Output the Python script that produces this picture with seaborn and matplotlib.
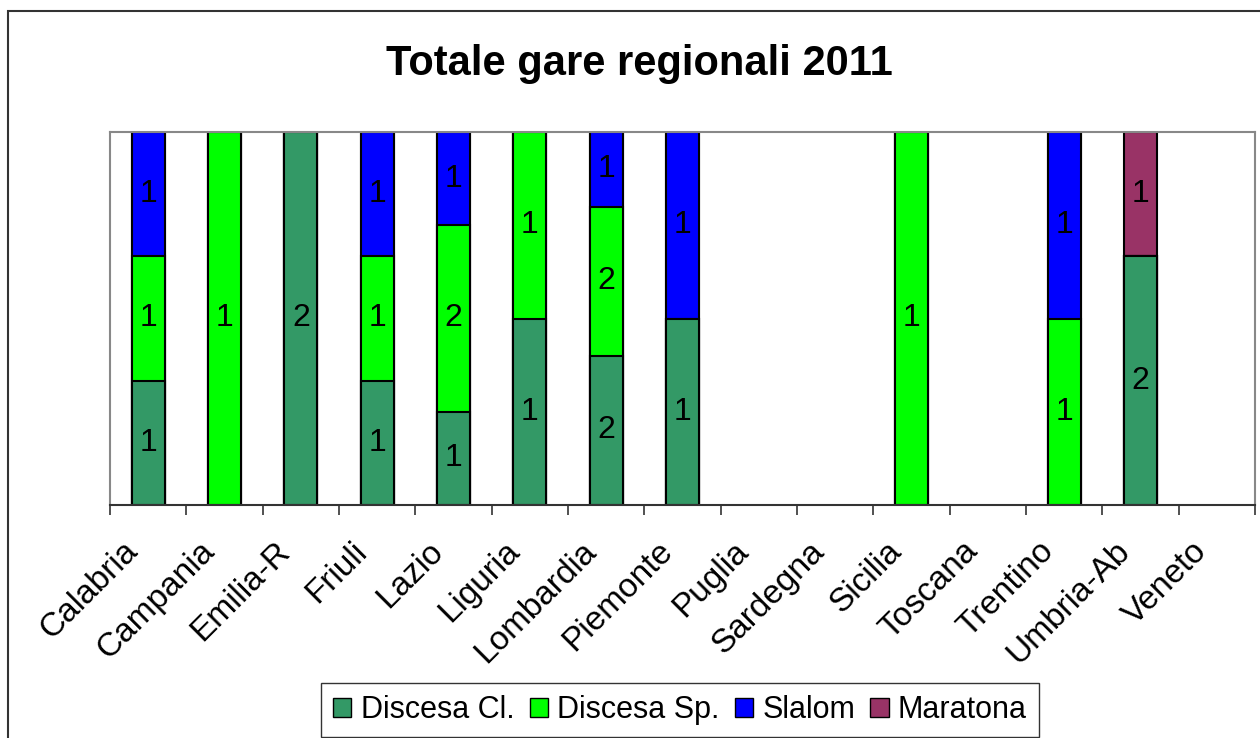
import numpy as np
import pandas as pd
import matplotlib
matplotlib.use("Agg")
import matplotlib.pyplot as plt
import matplotlib.transforms as mtransforms
from matplotlib.patches import Rectangle, Patch
import seaborn as sns

regions = ["Calabria", "Campania", "Emilia-R", "Friuli", "Lazio", "Liguria",
           "Lombardia", "Piemonte", "Puglia", "Sardegna", "Sicilia", "Toscana",
           "Trentino", "Umbria-Ab", "Veneto"]
discesa_cl = [1, 0, 2, 1, 1, 1, 2, 1, 0, 0, 0, 0, 0, 2, 0]
discesa_sp = [1, 1, 0, 1, 2, 1, 2, 0, 0, 0, 1, 0, 1, 0, 0]
slalom     = [1, 0, 0, 1, 1, 0, 1, 1, 0, 0, 0, 0, 1, 0, 0]
maratona   = [0, 0, 0, 0, 0, 0, 0, 0, 0, 0, 0, 0, 0, 1, 0]

series_names = ["Discesa Cl.", "Discesa Sp.", "Slalom", "Maratona"]
series_vals = [discesa_cl, discesa_sp, slalom, maratona]
colors = ["#339966", "#00FF00", "#0000FF", "#993366"]

sns.set_theme(style="white")
plt.rcParams['font.family'] = ['Liberation Sans', 'DejaVu Sans']
plt.rcParams['text.color'] = 'black'
plt.rcParams['xtick.color'] = 'black'

counts = np.array(series_vals, dtype=float)
totals = counts.sum(axis=0)
safe = np.where(totals > 0, totals, 1)
pct = counts / safe
cum = np.cumsum(pct, axis=0)

fig = plt.figure(figsize=(12.6, 7.38), dpi=100)
ax = fig.add_axes([110/1260, 1-505/738, (1255-110)/1260, (505-132)/738])

# draw from the top layer down so each lower cumulative bar overlays
for k in range(len(series_names)-1, -1, -1):
    df = pd.DataFrame({"region": regions, "val": cum[k]})
    sns.barplot(data=df, x="region", y="val", order=regions, color=colors[k],
                saturation=1, width=0.43, edgecolor="black", linewidth=1.5,
                ax=ax, errorbar=None)

for p in ax.patches:
    if p.get_height() <= 1e-9:
        p.set_visible(False)

# value labels
for k in range(len(series_names)):
    for i in range(len(regions)):
        v = counts[k, i]
        if v > 0:
            bottom = cum[k, i] - pct[k, i]
            ax.text(i, bottom + pct[k, i] / 2, f"{int(v)}", ha="center", va="center",
                    fontsize=23, color="black")

ax.set_xlim(-0.5, len(regions) - 0.5)
ax.set_ylim(0, 1)
ax.set_xlabel("")
ax.set_ylabel("")
ax.set_yticks([])
ax.set_xticks(range(len(regions)))
ax.set_xticklabels(regions, rotation=45, ha="right", rotation_mode="anchor", fontsize=24,
                   color="black")
ax.set_xticks(np.arange(-0.5, len(regions), 1.0), minor=True)
ax.tick_params(axis="x", which="major", length=0, pad=22)
ax.tick_params(axis="x", which="minor", length=7, width=1.2, color="#333333", direction="out", bottom=True)
shift = mtransforms.ScaledTranslation(-26/100, 0, fig.dpi_scale_trans)
for lbl in ax.get_xticklabels():
    lbl.set_transform(lbl.get_transform() + shift)
for s in ["top", "left", "right"]:
    ax.spines[s].set_color("#888888")
    ax.spines[s].set_linewidth(1.5)
ax.spines["bottom"].set_color("#333333")
ax.spines["bottom"].set_linewidth(1.5)

fig.text(639/1260, 1-64/738, "Totale gare regionali 2011", ha="center", va="center",
         fontsize=30, fontweight="bold", color="black")

handles = [Patch(facecolor=c, edgecolor="black", linewidth=1) for c in colors]
leg = fig.legend(handles, series_names, loc="center", bbox_to_anchor=(680/1260, 1-710/738),
                 ncol=4, fontsize=22, frameon=True, fancybox=False, edgecolor="black",
                 handlelength=0.6, handleheight=0.6, handletextpad=0.3, columnspacing=0.5,
                 borderpad=0.4)
leg.get_frame().set_linewidth(1.0)
for t in leg.get_texts():
    t.set_color("black")

fig.patches.append(Rectangle((8/1260, -0.2), 1.2, 1-11/738+0.2, transform=fig.transFigure,
                             fill=False, edgecolor="#333333", linewidth=1.5))

fig.savefig("out.png", dpi=100)
